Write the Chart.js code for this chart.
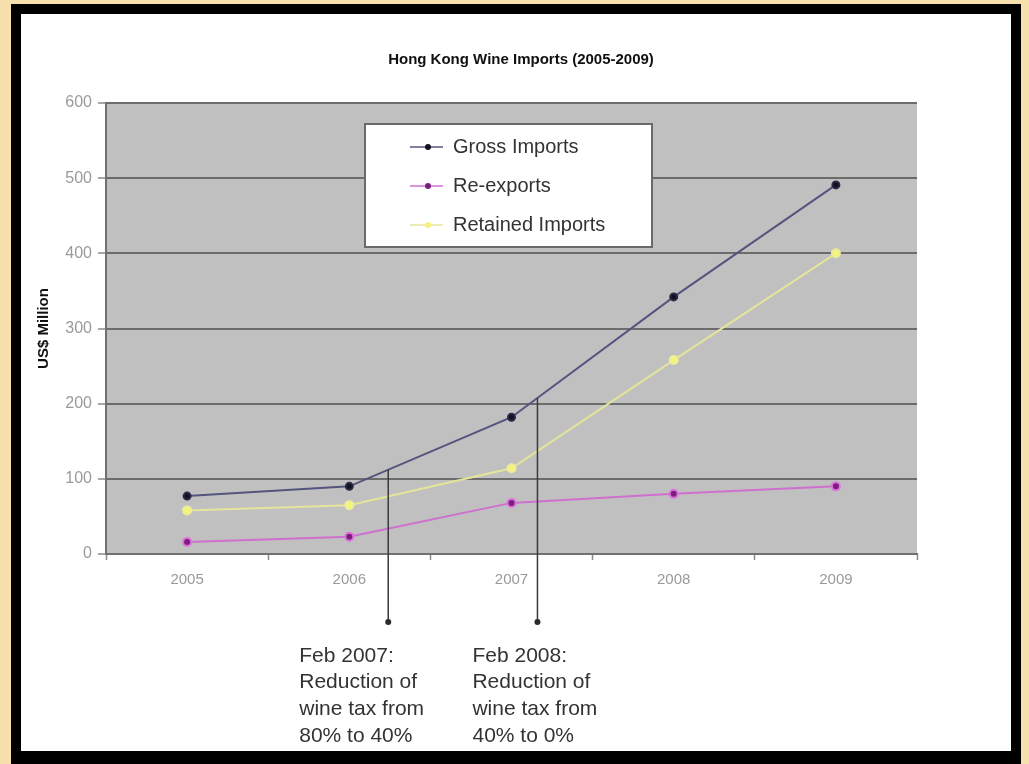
<!DOCTYPE html>
<html>
<head>
<meta charset="utf-8">
<script src="https://cdn.jsdelivr.net/npm/chart.js@4.4.1/dist/chart.umd.min.js"></script>
<style>
    html, body { margin: 0; padding: 0; }
    body { width: 1029px; height: 764px; background: #f6e1ad; position: relative; overflow: hidden; }
    #frame { position: absolute; left: 11px; top: 4px; width: 1010px; height: 760px; background: #000; }
    #panel { position: absolute; left: 21px; top: 14px; width: 990px; height: 737px; background: #fff; }
    #chart { display: block; }
</style>
</head>
<body>
<div id="frame"></div>
<div id="panel"><canvas id="chart" width="990" height="737"></canvas></div>
<script>
// Hong Kong wine imports, US$ million
const years = ['2005', '2006', '2007', '2008', '2009'];
const grossImports = [77, 90, 182, 342, 491];
const reExports = [16, 23, 68, 80, 90];
const retainedImports = [58, 65, 114, 258, 400];

// Tax change call-outs: position on the category axis (fractional index) and text
const annotX = [1.24, 2.16];
const annotText = [
    ['Feb 2007:', 'Reduction of', 'wine tax from', '80% to 40%'],
    ['Feb 2008:', 'Reduction of', 'wine tax from', '40% to 0%'],
];

const FONT = "'Liberation Sans', Arial, sans-serif";

/**
 * Grey plot background, floating legend box and the tax call-outs
 */
const decorPlugin = {
    id: 'hkDecor',
    afterLayout: (chart) => {
        // centre the title over the whole panel rather than the padded box
        chart.titleBlock.left = 10;
        chart.titleBlock.right = chart.width;
    },
    beforeDraw: (chart) => {
        const { ctx, chartArea } = chart;
        ctx.save();
        ctx.fillStyle = '#c0c0c0';
        ctx.fillRect(
            chartArea.left,
            chartArea.top,
            chartArea.right - chartArea.left,
            chartArea.bottom - chartArea.top
        );
        ctx.restore();
    },
    afterDatasetsDraw: (chart) => {
        const { ctx, chartArea } = chart;
        const xScale = chart.scales.x;
        const yScale = chart.scales.y;

        // Legend box
        ctx.save();
        const bx = chartArea.left + 259;
        const by = chartArea.top + 21;
        ctx.fillStyle = '#ffffff';
        ctx.fillRect(bx, by, 287, 123);
        ctx.strokeStyle = '#6a6a6a';
        ctx.lineWidth = 2;
        ctx.strokeRect(bx, by, 287, 123);
        chart.data.datasets.forEach((ds, i) => {
            const ly = by + 23 + i * 39;
            ctx.strokeStyle = ds.borderColor;
            ctx.lineWidth = 1.5;
            ctx.beginPath();
            ctx.moveTo(bx + 45, ly);
            ctx.lineTo(bx + 78, ly);
            ctx.stroke();
            ctx.fillStyle = ds.pointBackgroundColor;
            ctx.beginPath();
            ctx.arc(bx + 63, ly, 3, 0, Math.PI * 2);
            ctx.fill();
            ctx.fillStyle = '#333333';
            ctx.font = '20px ' + FONT;
            ctx.textAlign = 'left';
            ctx.textBaseline = 'middle';
            ctx.fillText(ds.label, bx + 88, ly);
        });
        ctx.restore();

        // Call-out lines from the gross imports line down below the axis
        ctx.save();
        annotX.forEach((xv, k) => {
            const i = Math.floor(xv);
            const f = xv - i;
            const v = grossImports[i] + f * (grossImports[i + 1] - grossImports[i]);
            const x = xScale.getPixelForValue(xv);
            const yTop = yScale.getPixelForValue(v);
            const yBot = chartArea.bottom + 68;
            ctx.strokeStyle = '#3a3a3a';
            ctx.lineWidth = 1.5;
            ctx.beginPath();
            ctx.moveTo(x, yTop);
            ctx.lineTo(x, yBot);
            ctx.stroke();
            ctx.fillStyle = '#2a2a2a';
            ctx.beginPath();
            ctx.arc(x, yBot, 3, 0, Math.PI * 2);
            ctx.fill();

            ctx.fillStyle = '#333333';
            ctx.font = '21px ' + FONT;
            ctx.textAlign = 'left';
            ctx.textBaseline = 'middle';
            const tx = k === 0 ? x - 89 : x - 65;
            annotText[k].forEach((line, j) => {
                ctx.fillText(line, tx, chartArea.bottom + 102 + j * 26.7);
            });
        });
        ctx.restore();
    },
};

new Chart(document.getElementById('chart'), {
    type: 'line',
    data: {
        labels: years,
        datasets: [
            {
                label: 'Gross Imports',
                data: grossImports,
                borderColor: '#54547e',
                borderWidth: 2,
                pointBackgroundColor: '#111122',
                pointBorderColor: '#2a2a44',
                pointRadius: 3.5,
            },
            {
                label: 'Re-exports',
                data: reExports,
                borderColor: '#cf6fcf',
                borderWidth: 2,
                pointBackgroundColor: '#7a1f7a',
                pointBorderColor: '#e070e0',
                pointBorderWidth: 2,
                pointRadius: 4,
            },
            {
                label: 'Retained Imports',
                data: retainedImports,
                borderColor: '#e4e49a',
                borderWidth: 2,
                pointBackgroundColor: '#f4f47a',
                pointBorderColor: '#ecec9a',
                pointRadius: 4,
            },
        ],
    },
    plugins: [decorPlugin],
    options: {
        responsive: false,
        animation: false,
        layout: { padding: { left: 0, right: 94, top: 0, bottom: 0 } },
        elements: { line: { tension: 0 } },
        plugins: {
            legend: { display: false },
            tooltip: { enabled: false },
            title: {
                display: true,
                text: 'Hong Kong Wine Imports (2005-2009)',
                color: '#111111',
                font: { family: FONT, size: 15, weight: 'bold' },
                padding: { top: 37, bottom: 34 },
            },
        },
        scales: {
            x: {
                type: 'category',
                offset: true,
                afterFit: (scale) => {
                    scale.height = 197;
                },
                grid: {
                    offset: true,
                    drawOnChartArea: false,
                    drawTicks: true,
                    tickLength: 6,
                    tickColor: '#8a8a8a',
                    tickWidth: 1.5,
                },
                border: { color: '#707070', width: 2 },
                ticks: {
                    color: '#9a9a9a',
                    font: { family: FONT, size: 15 },
                    padding: 11,
                    maxRotation: 0,
                },
            },
            y: {
                min: 0,
                max: 600,
                afterFit: (scale) => {
                    scale.width = 85;
                },
                grid: {
                    color: '#6c6c6c',
                    lineWidth: 2,
                    drawTicks: true,
                    tickLength: 8,
                    tickColor: '#8a8a8a',
                    tickWidth: 1.5,
                },
                border: { color: '#707070', width: 2 },
                ticks: {
                    stepSize: 100,
                    color: '#9a9a9a',
                    font: { family: FONT, size: 16 },
                    padding: 6,
                },
                title: {
                    display: true,
                    text: 'US$ Million',
                    color: '#111111',
                    font: { family: FONT, size: 15, weight: 'bold' },
                    padding: { top: 14, bottom: 0 },
                },
            },
        },
    },
});
</script>
</body>
</html>
